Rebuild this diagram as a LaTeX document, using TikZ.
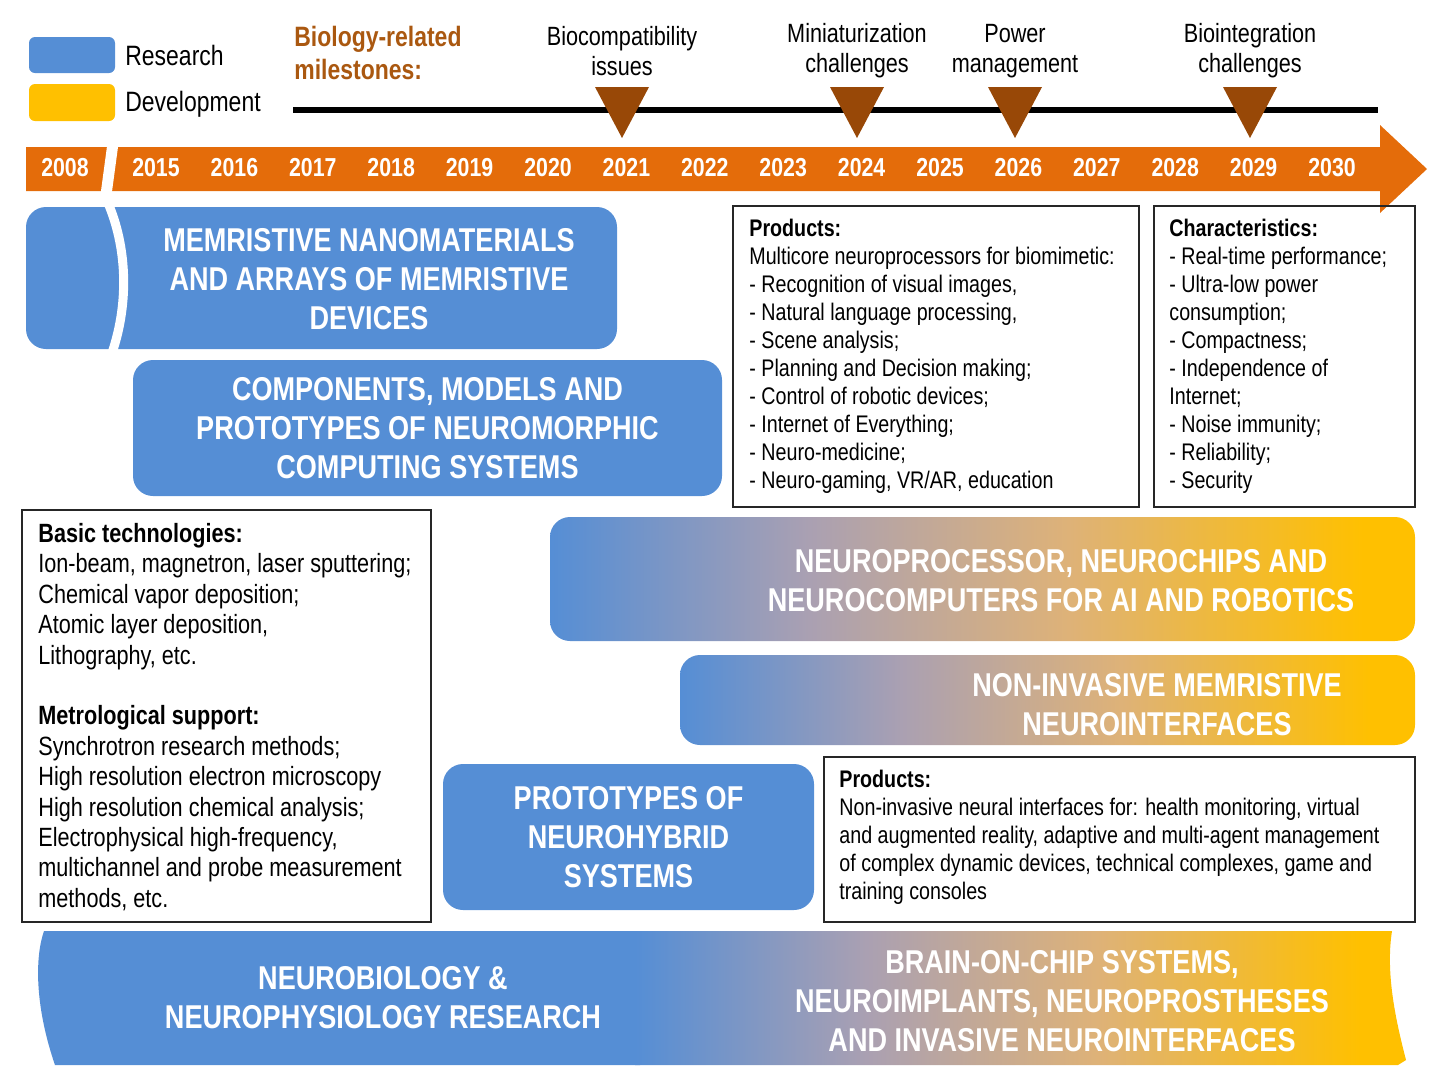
\documentclass[tikz,border=0pt]{standalone}
\usepackage{fontspec}
\setmainfont[FakeStretch=0.82]{Liberation Sans}
\usetikzlibrary{positioning}

\definecolor{resblue}{RGB}{85,142,213}
\definecolor{devyellow}{RGB}{255,192,0}
\definecolor{barorange}{RGB}{228,108,10}
\definecolor{milebrown}{RGB}{152,72,7}
\definecolor{miletext}{RGB}{170,88,16}
\definecolor{midmauve}{RGB}{170,160,178}
\definecolor{midtan}{RGB}{222,178,120}
\pgfdeclarehorizontalshading{bluegold}{100bp}{color(0bp)=(resblue); color(25bp)=(resblue); color(40bp)=(midmauve); color(55bp)=(midtan); color(72bp)=(devyellow); color(100bp)=(devyellow)}

\begin{document}
\begin{tikzpicture}[x=0.5pt, y=-0.5pt,
    resbox/.style={fill=resblue, rounded corners=10pt, inner sep=0pt},
    devbox/.style={shade, shading=bluegold, rounded corners=10pt, inner sep=0pt},
    title/.style={text=white, font=\bfseries\fontsize{16.5}{19.5}\selectfont, align=center},
    txtbox/.style={draw=black!85, line width=1pt, inner sep=0pt},
    boxtext/.style={font=\fontsize{12}{14}\selectfont, align=left, inner sep=0pt, anchor=north west},
    techtext/.style={font=\fontsize{13.2}{15.2}\selectfont, align=left, inner sep=0pt, anchor=north west},
    yearlbl/.style={text=white, font=\bfseries\fontsize{13}{15}\selectfont},
    milelbl/.style={font=\fontsize{13.2}{15}\selectfont, align=center}]
    \useasboundingbox (0,0) rectangle (1440,1089);

    % Legend
    \node [fill=resblue, rounded corners=3pt, minimum width=43pt, minimum height=18pt] (leg_res) at (72,55) {};
    \node [fill=devyellow, rounded corners=3pt, minimum width=43pt, minimum height=18.5pt] (leg_dev) at (72,102.5) {};
    \node [anchor=west, font=\fontsize{14}{16}\selectfont, inner sep=0pt] (leg_res_txt) at (125,55) {Research};
    \node [anchor=west, font=\fontsize{14}{16}\selectfont, inner sep=0pt] (leg_dev_txt) at (125,104) {Development};

    % Milestones
    \node [anchor=west, align=left, text=miletext, font=\bfseries\fontsize{14}{16.5}\selectfont, inner sep=0pt] (miles) at (294,53) {Biology-related\\milestones:};
    \draw [line width=3pt] (293,110) -- (1378,110);
    \foreach \mx/\mname/\mtext in {622/bio/{Biocompatibility\\issues}, 857/mini/{Miniaturization\\challenges}, 1015/power/{Power\\management}, 1250/integ/{Biointegration\\challenges}} {
        \fill [milebrown] (\mx-27,87) -- (\mx+27,87) -- (\mx,138) -- cycle;
        \node [milelbl] (\mname) at (\mx,51) {\mtext};
    }

    % Timeline arrow
    \fill [barorange] (26,147) -- (1380,147) -- (1380,125) -- (1427,169) -- (1380,213) -- (1380,191) -- (26,191) -- cycle;
    \draw [white, line width=5.5pt] (113,143) -- (106,195); % break
    \node [yearlbl] (y2008) at (65,168) {2008};
    \foreach \yr [count=\i from 0] in {2015,...,2030}
        \node [yearlbl] (y\yr) at (156+78.4*\i,168) {\yr};

    % Research blocks
    \node [resbox, minimum width=295.5pt, minimum height=71pt] (memr) at (321.5,278) {};
    \draw [white, line width=4.5pt] (108,203) .. controls (126,245) and (130,300) .. (112,353);
    \node [title] (memr_txt) at (369,279) {MEMRISTIVE NANOMATERIALS\\AND ARRAYS OF MEMRISTIVE\\DEVICES};

    \node [resbox, title, minimum width=294.5pt, minimum height=68pt] (comp) at (427.5,428) {COMPONENTS, MODELS AND\\PROTOTYPES OF NEUROMORPHIC\\COMPUTING SYSTEMS};

    \node [resbox, title, minimum width=185.5pt, minimum height=73pt] (hybrid) at (628.5,837) {PROTOTYPES OF\\NEUROHYBRID\\SYSTEMS};

    % Development blocks
    \node [devbox, minimum width=432.5pt, minimum height=62pt] (nproc) at (982.5,579) {};
    \node [title] (nproc_txt) at (1061,581) {NEUROPROCESSOR, NEUROCHIPS AND\\NEUROCOMPUTERS FOR AI AND ROBOTICS};

    \node [devbox, minimum width=367.5pt, minimum height=45pt] (ninv) at (1047.5,700) {};
    \node [title] (ninv_txt) at (1157,705) {NON-INVASIVE MEMRISTIVE\\NEUROINTERFACES};

    % Products / characteristics
    \node [txtbox, minimum width=203pt, minimum height=150.5pt] (prod1) at (936,356.5) {};
    \node [boxtext] (prod1_txt) at ([xshift=8.5pt, yshift=-7pt]prod1.north west) {\textbf{Products:}\\
        Multicore neuroprocessors for biomimetic:\\
        - Recognition of visual images,\\
        - Natural language processing,\\
        - Scene analysis;\\
        - Planning and Decision making;\\
        - Control of robotic devices;\\
        - Internet of Everything;\\
        - Neuro-medicine;\\
        - Neuro-gaming, VR/AR, education};

    \node [txtbox, minimum width=130.5pt, minimum height=150.5pt] (chars) at (1284.5,356.5) {};
    \node [boxtext] (chars_txt) at ([xshift=8pt, yshift=-7pt]chars.north west) {\textbf{Characteristics:}\\
        - Real-time performance;\\
        - Ultra-low power\\
        consumption;\\
        - Compactness;\\
        - Independence of\\
        Internet;\\
        - Noise immunity;\\
        - Reliability;\\
        - Security};

    \node [txtbox, minimum width=204.5pt, minimum height=206pt] (tech) at (226.5,716) {};
    \node [techtext] (tech_txt) at ([xshift=8.5pt, yshift=-7pt]tech.north west) {\textbf{Basic technologies:}\\
        Ion-beam, magnetron, laser sputtering;\\
        Chemical vapor deposition;\\
        Atomic layer deposition,\\
        Lithography, etc.\\[15.2pt]
        \textbf{Metrological support:}\\
        Synchrotron research methods;\\
        High resolution electron microscopy\\
        High resolution chemical analysis;\\
        Electrophysical high-frequency,\\
        multichannel and probe measurement\\
        methods, etc.};

    \node [txtbox, minimum width=295.5pt, minimum height=82.5pt] (prod2) at (1119.5,839.5) {};
    \node [boxtext] (prod2_txt) at ([xshift=8pt, yshift=-7pt]prod2.north west) {\textbf{Products:}\\
        Non-invasive neural interfaces for: health monitoring, virtual\\
        and augmented reality, adaptive and multi-agent management\\
        of complex dynamic devices, technical complexes, game and\\
        training consoles};

    % Bottom band
    \fill [resblue] (44,931) -- (640,931) -- (640,1065) -- (55,1065) .. controls (36,1010) and (34,960) .. (44,931) -- cycle;
    \shade [shading=bluegold] (635,931) -- (1392,931) .. controls (1385,975) and (1397,1025) .. (1406,1060) -- (1398,1065) -- (635,1065) -- cycle;
    \node [title] (neurobio) at (383,998) {NEUROBIOLOGY \&\\NEUROPHYSIOLOGY RESEARCH};
    \node [title] (brainchip) at (1062,1001) {BRAIN-ON-CHIP SYSTEMS,\\NEUROIMPLANTS, NEUROPROSTHESES\\AND INVASIVE NEUROINTERFACES};
\end{tikzpicture}
\end{document}
